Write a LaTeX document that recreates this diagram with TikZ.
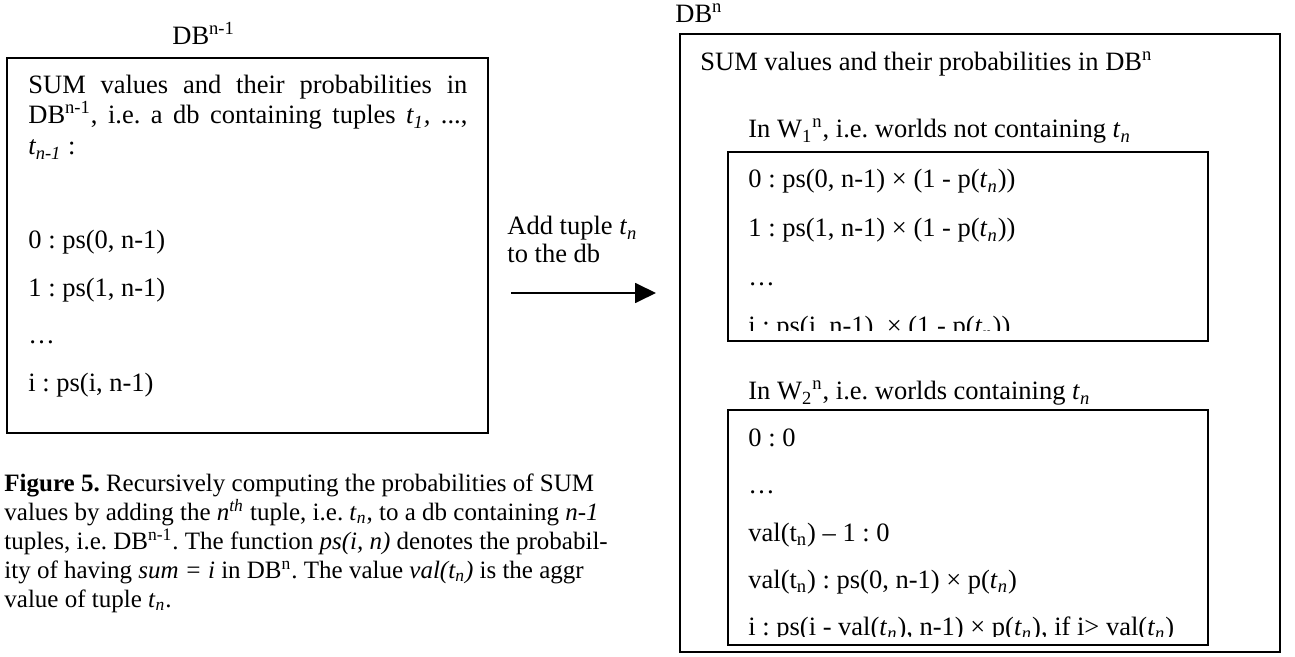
\documentclass[tikz,border=0pt]{standalone}
\usepackage{fontspec}
\setmainfont{Liberation Serif}
\usepackage{tikz}
\usetikzlibrary{arrows.meta,fit}
\frenchspacing
\newcommand{\tupn}{\textit{t}\textsubscript{\textit{n}}}
\newcommand{\tupnup}{t\textsubscript{n}}
\tikzset{
    boxline/.style={draw, line width=1pt, inner sep=0pt},
    txt/.style={anchor=base west, inner sep=0pt, font=\fontsize{13.25}{16}\selectfont},
}

\begin{document}
\begin{tikzpicture}[x=0.5pt,y=-0.5pt]
\useasboundingbox (0,0) rectangle (1295,657);
\node[boxline, fit={(7,58) (488,433)}] (dbold) {};
\node[boxline, line width=1.3pt, fit={(680,34) (1280,652)}] (dbnew) {};
\node[boxline, fit={(728,152) (1208,341)}] (wone) {};
\node[boxline, fit={(728,410) (1208,645)}] (wtwo) {};
\node[txt] (dboldlbl) at (172,45) {DB\textsuperscript{n-1}};
\node[txt] (dbnewlbl) at (675,23) {DB\textsuperscript{n}};
\foreach \y/\lbl[count=\i] in {
    94/{\makebox[219.5pt][s]{SUM values and their probabilities in}},
    124/{\makebox[219.5pt][s]{DB\textsuperscript{n-1}, i.e. a db containing tuples \textit{t\textsubscript{1},} ...,}},
    155/{\textit{t\textsubscript{n-1}} :},
    249/{0 : ps(0, n-1)}, 297/{1 : ps(1, n-1)}, 344/{…}, 392/{i : ps(i, n-1)}
}{
    \node[txt] (old\i) at (28,\y) {\lbl};
}
\node[txt] (newhead) at (700,71) {SUM values and their probabilities in DB\textsuperscript{n}};
\node[txt] (wonehead) at (748,138) {In W\textsubscript{1}\textsuperscript{n}, i.e. worlds not containing \tupn};
\node[txt] (wtwohead) at (748,400) {In W\textsubscript{2}\textsuperscript{n}, i.e. worlds containing \tupn};
\begin{scope}
\clip (728,152) rectangle (1208,331);
\foreach \y/\lbl[count=\i] in {
    188/{0 : ps(0, n-1) × (1 - p(\tupn))}, 237/{1 : ps(1, n-1) × (1 - p(\tupn))},
    286/{…}, 335/{i : ps(i, n-1)~ × (1 - p(\tupn))}
}{
    \node[txt] (wone\i) at (748,\y) {\lbl};
}
\end{scope}
\begin{scope}
\clip (728,410) rectangle (1208,636);
\foreach \y/\lbl[count=\i] in {
    446/{0 : 0}, 493/{…}, 541/{val(\tupnup) – 1 : 0},
    588/{val(\tupnup) : ps(0, n-1) × p(\tupn)},
    635/{i : ps(i - val(\tupn), n-1) × p(\tupn), if i> val(\tupn)}
}{
    \node[txt] (wtwo\i) at (748,\y) {\lbl};
}
\end{scope}
\node[txt] (addlbl) at (507,235) {Add tuple \tupn};
\node[txt] (dblbl) at (507,263) {to the db};
\coordinate (arrS) at (511,293);
\coordinate (arrE) at (656,293);
\draw[line width=0.9pt, -{Triangle[length=10.5pt,width=10pt]}] (arrS) -- (arrE);
\node[anchor=north west, inner sep=0pt, align=left, font=\fontsize{12.5}{14.5}\selectfont] (cap) at (4,473) {
    \textbf{Figure 5.} Recursively computing the probabilities of SUM\\
    values by adding the \textit{n\textsuperscript{th}} tuple, i.e. \tupn, to a db containing \textit{n-1}\\
    tuples, i.e. DB\textsuperscript{n-1}. The function \textit{ps(i, n)} denotes the probabil-\\
    ity of having \textit{sum = i} in DB\textsuperscript{n}. The value \textit{val(\tupn)} is the aggr\\
    value of tuple \tupn.};
\end{tikzpicture}
\end{document}
